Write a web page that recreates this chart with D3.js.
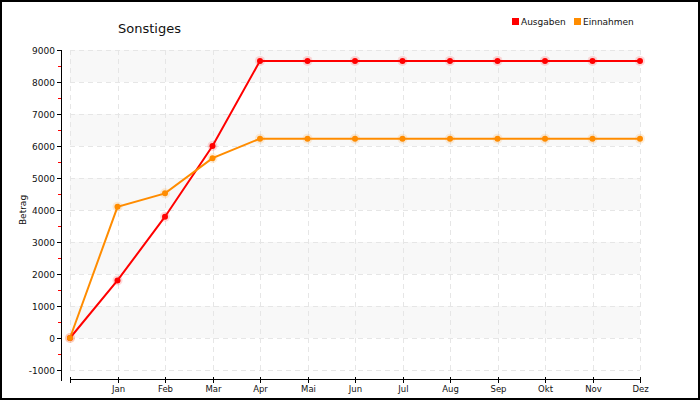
<!DOCTYPE html>
<html><head><meta charset="utf-8">
<script src="https://cdn.jsdelivr.net/npm/d3@7"></script>
<style>body{margin:0;background:#fff}svg{display:block}text{font-family:"DejaVu Sans",Verdana,sans-serif}</style>
</head><body><svg id="c" width="700" height="400"></svg>
<script>
const months = ["", "Jan","Feb","Mar","Apr","Mai","Jun","Jul","Aug","Sep","Okt","Nov","Dez"];
const ausgaben = [0,1800,3790,6000,8660,8660,8660,8660,8660,8660,8660,8660,8660];
const einnahmen = [0,4100,4520,5620,6230,6230,6230,6230,6230,6230,6230,6230,6230];
const yTicks = [-1000,0,1000,2000,3000,4000,5000,6000,7000,8000,9000];
const seriesNames = ["Ausgaben","Einnahmen"];
const seriesColors = ["#ff0000","#ff8c00"];

const svg = d3.select("#c");
const x = d3.scalePoint().domain(d3.range(months.length)).range([70,640]);
const y = d3.scaleLinear().domain([-1000,9000]).range([370,50]);

svg.append("rect").attr("x",1).attr("y",1).attr("width",698).attr("height",398)
  .attr("fill","#fff").attr("stroke","#000").attr("stroke-width",2);

// bands
for (let v=-1000; v<9000; v+=1000) {
  const shaded = ((v/1000)%2+2)%2===0;
  if (shaded) svg.append("rect").attr("x",70).attr("width",570)
    .attr("y",y(v+1000)).attr("height",y(v)-y(v+1000)).attr("fill","#f8f8f8");
}
// grid
const g = svg.append("g").attr("stroke","#e6e6e6").attr("stroke-dasharray","5,4").attr("stroke-width",1);
yTicks.forEach(v=>g.append("line").attr("x1",70).attr("x2",640).attr("y1",y(v)+0.5).attr("y2",y(v)+0.5));
d3.range(months.length).forEach(i=>g.append("line").attr("x1",Math.round(x(i))+0.5).attr("x2",Math.round(x(i))+0.5).attr("y1",50).attr("y2",370));

// y axis
const ya = svg.append("g");
ya.append("line").attr("x1",61.5).attr("x2",61.5).attr("y1",50).attr("y2",381).attr("stroke","#000");
yTicks.forEach(v=>{
  ya.append("line").attr("x1",57).attr("x2",62).attr("y1",y(v)+0.5).attr("y2",y(v)+0.5).attr("stroke","#000");
  ya.append("text").attr("x",55).attr("y",y(v)+3.5).attr("text-anchor","end").attr("font-size",9).attr("fill","#111").text(v);
  if (v<9000) ya.append("line").attr("x1",58).attr("x2",61).attr("y1",y(v+500)+0.5).attr("y2",y(v+500)+0.5).attr("stroke","#ff0000");
});
svg.append("text").attr("transform","translate(26,210) rotate(-90)").attr("text-anchor","middle")
  .attr("font-size",9).attr("fill","#111").text("Betrag");

// x axis
const xa = svg.append("g");
xa.append("line").attr("x1",70).attr("x2",641).attr("y1",379.5).attr("y2",379.5).attr("stroke","#000");
months.forEach((m,i)=>{
  const px = Math.round(x(i))+0.5;
  xa.append("line").attr("x1",px).attr("x2",px).attr("y1",377).attr("y2",383).attr("stroke","#000");
  xa.append("text").attr("x",px).attr("y",392).attr("text-anchor","middle").attr("font-size",8.5).attr("fill","#111").text(m);
});

// series
const line = d3.line().x((d,i)=>x(i)).y(d=>y(d));
[ausgaben, einnahmen].forEach((data,si)=>{
  svg.append("path").attr("d",line(data)).attr("fill","none").attr("stroke",seriesColors[si]).attr("stroke-width",2);
});
[ausgaben, einnahmen].forEach((data,si)=>{
  const c = seriesColors[si];
  data.forEach((d,i)=>{
    svg.append("circle").attr("cx",x(i)).attr("cy",y(d)).attr("r",5).attr("fill",c).attr("opacity",0.15);
    svg.append("circle").attr("cx",x(i)).attr("cy",y(d)).attr("r",3).attr("fill",c);
  });
});

// title
svg.append("text").attr("x",118).attr("y",33).attr("font-size",13).attr("fill","#111").text("Sonstiges");

// legend
const lg = svg.append("g");
const lx = [512, 574];
seriesNames.forEach((n,i)=>{
  lg.append("rect").attr("x",lx[i]).attr("y",18).attr("width",7).attr("height",7).attr("fill",seriesColors[i]);
  lg.append("text").attr("x",lx[i]+9).attr("y",25).attr("font-size",9).attr("fill","#111").text(n);
});
</script></body></html>
